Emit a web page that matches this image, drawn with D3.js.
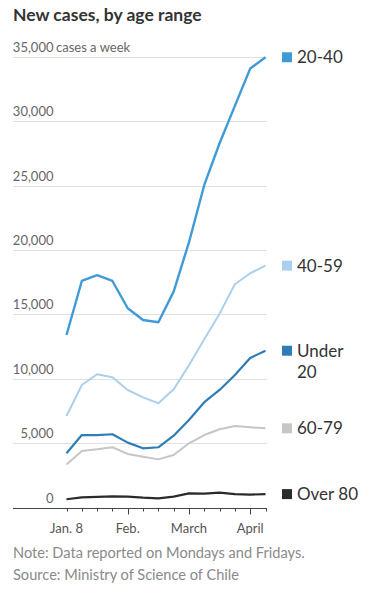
<!DOCTYPE html>
<html lang="en">
<head>
<meta charset="UTF-8">
<script src="https://d3js.org/d3.v7.min.js"></script>
<style>
  body { margin: 0; background: #fff; }
  svg { display: block; font-family: Lato, "Open Sans", sans-serif; }
</style>
</head>
<body>
<div id="chart"></div>
<script>
// weekly readings, index 0 = Jan. 8
const weeks = d3.range(14);
const monthTicks = [
  { i: 0, label: "Jan. 8", major: false },
  { i: 4, label: "Feb.", major: true },
  { i: 8, label: "March", major: true },
  { i: 12, label: "April", major: true }
];
const yTicks = [0, 5000, 10000, 15000, 20000, 25000, 30000, 35000];

const age20to40 = [13400, 17600, 18050, 17600, 15480, 14570, 14390, 16770, 20600, 25060, 28300, 31200, 34100, 34980];
const age40to59 = [7110, 9520, 10350, 10120, 9130, 8560, 8100, 9180, 11050, 13070, 15060, 17340, 18200, 18790];
const under20 = [4210, 5630, 5630, 5690, 5040, 4600, 4680, 5580, 6800, 8180, 9130, 10290, 11620, 12180];
const age60to79 = [3350, 4390, 4520, 4680, 4160, 3950, 3740, 4080, 4990, 5630, 6080, 6330, 6230, 6150];
const over80 = [640, 790, 830, 870, 850, 760, 710, 850, 1100, 1080, 1150, 1040, 1000, 1040];

const seriesNames = ["20-40", "40-59", "Under 20", "60-79", "Over 80"];
const seriesValues = [age20to40, age40to59, under20, age60to79, over80];
const seriesColors = ["#3f9bd7", "#aad0ee", "#2f7db6", "#c6c6c6", "#2b2b2b"];
const seriesWidths = [2.4, 2, 2.2, 2, 2.2];

const width = 370, height = 596;

const svg = d3.select("#chart").append("svg")
  .attr("width", width)
  .attr("height", height);

const x = d3.scaleLinear().domain([0, 13]).range([66.5, 265.5]);
const y = d3.scaleLinear().domain([0, 35000]).range([507.5, 57]);

svg.append("text")
  .attr("x", 13).attr("y", 21)
  .attr("font-size", 17.5).attr("font-weight", 700)
  .attr("fill", "#333")
  .text("New cases, by age range");

// gridlines + labels
const grid = svg.append("g");
grid.selectAll("line").data(yTicks.filter(d => d > 0)).enter().append("line")
  .attr("x1", 13).attr("x2", 267)
  .attr("y1", d => Math.round(y(d)) + 0.5).attr("y2", d => Math.round(y(d)) + 0.5)
  .attr("stroke", "#e0e0e0").attr("stroke-width", 1);

grid.selectAll("text").data(yTicks).enter().append("text")
  .attr("x", 53.5).attr("y", d => y(d) - 5)
  .attr("font-size", 13).attr("fill", "#666")
  .attr("text-anchor", "end")
  .text(d => d3.format(",")(d));

svg.append("text")
  .attr("x", 56).attr("y", y(35000) - 5)
  .attr("font-size", 13).attr("fill", "#666")
  .text("cases a week");

// x axis
const xAxis = svg.append("g")
  .attr("transform", `translate(0,${Math.round(y(0)) + 0.5})`);
xAxis.append("line")
  .attr("x1", 13).attr("x2", 267)
  .attr("stroke", "#444").attr("stroke-width", 1);
const majors = monthTicks.filter(d => d.major).map(d => d.i);
xAxis.selectAll("line.tick").data(weeks).enter().append("line")
  .attr("class", "tick")
  .attr("x1", d => Math.round(x(d)) + 0.5).attr("x2", d => Math.round(x(d)) + 0.5)
  .attr("y1", 0).attr("y2", d => majors.includes(d) ? 6 : 3)
  .attr("stroke", "#444");
xAxis.selectAll("text").data(monthTicks).enter().append("text")
  .attr("x", d => x(d.i)).attr("y", 24)
  .attr("text-anchor", "middle")
  .attr("font-size", 13).attr("fill", "#555")
  .text(d => d.label);

// lines
const line = d3.line().x((d, i) => x(i)).y(d => y(d));
svg.append("g").selectAll("path").data(seriesValues).enter().append("path")
  .attr("d", line)
  .attr("fill", "none")
  .attr("stroke", (d, i) => seriesColors[i])
  .attr("stroke-width", (d, i) => seriesWidths[i])
  .attr("stroke-linejoin", "round");

// legend next to line ends
const legend = svg.append("g").selectAll("g").data(seriesNames).enter().append("g")
  .attr("transform", (d, i) => `translate(282,${y(seriesValues[i][13])})`);
legend.append("rect")
  .attr("x", 0).attr("y", -5).attr("width", 10).attr("height", 10)
  .attr("fill", (d, i) => seriesColors[i]);
legend.append("text")
  .attr("x", 15).attr("y", 6)
  .attr("font-size", 17).attr("fill", "#333")
  .each(function(d) {
    const parts = d === "Under 20" ? ["Under", "20"] : [d];
    d3.select(this).selectAll("tspan").data(parts).enter().append("tspan")
      .attr("x", 15).attr("dy", (p, j) => j === 0 ? 0 : 21)
      .text(p => p);
  });

svg.append("text")
  .attr("x", 13).attr("y", 558)
  .attr("font-size", 14.6).attr("fill", "#8a8a8a")
  .text("Note: Data reported on Mondays and Fridays.");
svg.append("text")
  .attr("x", 13).attr("y", 580)
  .attr("font-size", 14.6).attr("fill", "#8a8a8a")
  .text("Source: Ministry of Science of Chile");
</script>
</body>
</html>
